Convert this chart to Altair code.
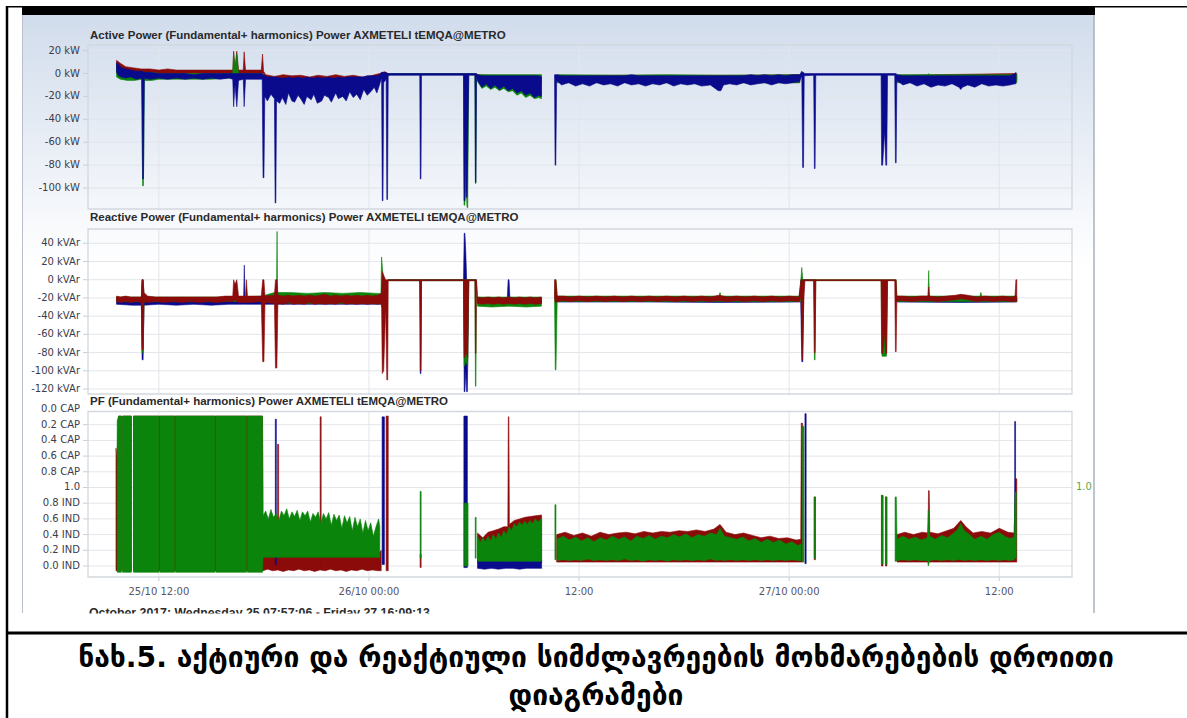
import altair as alt
import pandas as pd

W, H = 1187, 718

# ---------------- texts ----------------
TITLE_P = "Active Power  (Fundamental+ harmonics) Power AXMETELI tEMQA@METRO"
TITLE_Q = "Reactive Power (Fundamental+ harmonics) Power AXMETELI tEMQA@METRO"
TITLE_PF = "PF (Fundamental+ harmonics) Power AXMETELI tEMQA@METRO"
DATE_RANGE = "October 2017: Wednesday 25  07:57:06 - Friday 27  16:09:13"
CAPTION_1 = "ნახ.5. აქტიური და რეაქტიული სიმძლავრეების მოხმარებების დროითი"
CAPTION_2 = "დიაგრამები"
PF_UNITY = "1.0"

# ---------------- axes (hours since 25/10/2017 00:00) ----------------
X_START = 7.952    # 25/10 07:57:06
X_END = 64.154     # 27/10 16:09:13
X_TICKS = [12, 24, 36, 48, 60]
X_LABELS = ["25/10 12:00", "26/10 00:00", "12:00", "27/10 00:00", "12:00"]

P_TICKS = [20, 0, -20, -40, -60, -80, -100]
P_LABELS = ["20 kW", "0 kW", "-20 kW", "-40 kW", "-60 kW", "-80 kW", "-100 kW"]
P_DOMAIN = [-118.3, 24.9]
Q_TICKS = [40, 20, 0, -20, -40, -60, -80, -100, -120]
Q_LABELS = ["40 kVAr", "20 kVAr", "0 kVAr", "-20 kVAr", "-40 kVAr", "-60 kVAr", "-80 kVAr",
            "-100 kVAr", "-120 kVAr"]
Q_DOMAIN = [-125.5, 55.7]
# PF axis position: 0 = 0.0 CAP, 1 = unity, 2 = 0.0 IND
PF_TICKS = [0.0, 0.2, 0.4, 0.6, 0.8, 1.0, 1.2, 1.4, 1.6, 1.8, 2.0]
PF_LABELS = ["0.0 CAP", "0.2 CAP", "0.4 CAP", "0.6 CAP", "0.8 CAP", "1.0",
             "0.8 IND", "0.6 IND", "0.4 IND", "0.2 IND", "0.0 IND"]
PF_DOMAIN = [0.032, 2.14]

# ---------------- series: segments of (hour, value1, value2) ----------------
P_BLUE = [
    [(9.58, 1, 9.5), (9.70, -2, 8), (9.85, -3, 5), (10.1, -4, 4), (10.4, -3, 3), (10.7, -5, 2), (11.02, -4, 2),
     (11.07, -92, 2), (11.12, -92, 1), (11.17, -4, 1), (11.5, -5, 1), (12.0, -4, 0), (12.5, -5, 0), (13.0, -4, 0),
     (13.5, -5, 0), (14.0, -4, -1), (14.5, -5, 0), (15.0, -4, 0), (15.5, -5, 0), (16.0, -4, 0), (16.22, -5, 0),
     (16.27, -29, 0), (16.35, -10, 0), (16.45, -29, 0), (16.55, -6, 0), (16.82, -5, 0), (16.87, -29, 0),
     (16.95, -5, 0), (17.3, -5, 0), (17.7, -5, 0), (17.9, -5, 0), (17.95, -91, -1), (18.0, -91, -1),
     (18.05, -20, -2), (18.2, -24, -3), (18.4, -18, -3), (18.6, -22, -3), (18.64, -113, -3), (18.68, -113, -3),
     (18.72, -24, -3), (18.9, -26, -4), (19.05, -21, -4), (19.25, -27, -4), (19.4, -17, -3), (19.6, -24, -4),
     (19.75, -25, -4), (19.95, -19, -3), (20.1, -22, -4), (20.3, -27, -4), (20.45, -20, -3), (20.7, -23, -4),
     (20.85, -18, -4), (21.05, -26, -3), (21.3, -24, -4), (21.45, -19, -4), (21.7, -21, -3), (21.85, -25, -4),
     (22.1, -17, -4), (22.25, -22, -3), (22.5, -20, -4), (22.7, -24, -3), (22.9, -16, -3), (23.1, -21, -3),
     (23.3, -18, -3), (23.5, -23, -3), (23.7, -14, -3), (23.9, -19, -2), (24.1, -16, -2), (24.3, -12, -2),
     (24.45, -17, -2), (24.6, -10, -1), (24.72, -4, 1), (24.76, -111, 1), (24.8, -111, 1), (24.84, -8, 1),
     (24.98, -5, 1), (25.02, -110, 0), (25.06, -110, 0), (25.1, -2, 0), (25.2, -1.5, 0), (26.9, -1.5, 0),
     (26.93, -92, 0), (26.97, -92, 0), (27.0, -1.5, 0), (29.4, -1.5, 0), (29.43, -111, 0), (29.47, -111, 0),
     (29.52, -60, 0), (29.56, -108, 0), (29.6, -108, 0), (29.66, -40, 0), (29.7, -1.5, 0), (30.05, -1.5, 0),
     (30.08, -95, 0), (30.11, -95, 0), (30.14, -1.5, 0), (30.2, -6, -1), (30.45, -12, -2), (30.7, -9, -2),
     (30.95, -13, -2), (31.2, -10, -2), (31.45, -14, -2), (31.7, -11, -2), (31.95, -15, -2), (32.2, -13, -2),
     (32.45, -17, -2), (32.7, -15, -2), (32.95, -19, -2), (33.2, -17, -2), (33.45, -21, -2), (33.7, -19, -2),
     (33.85, -20, -3)],
    [(34.6, -3, -1), (34.63, -80, -1), (34.67, -80, -1), (34.72, -6, -1), (35.0, -10, -2), (35.4, -8, -2),
     (35.8, -11, -2), (36.2, -9, -2), (36.6, -11, -2), (37.0, -8, -2), (37.4, -10, -2), (37.8, -9, -2),
     (38.2, -11, -2), (38.6, -8, -2), (39.0, -10, -1), (39.4, -9, -2), (39.8, -11, -2), (40.2, -9, -2),
     (40.6, -10, -2), (41.0, -8, -2), (41.4, -11, -2), (41.8, -9, -2), (42.2, -10, -2), (42.6, -9, -2),
     (43.0, -11, -2), (43.5, -10, -2), (43.95, -15, -2), (44.1, -15, -2), (44.25, -10, -2), (44.6, -9, -2),
     (45.0, -10, -2), (45.4, -8, -2), (45.8, -10, -1), (46.2, -9, -2), (46.6, -8, -1), (47.0, -10, -2),
     (47.4, -8, -1), (47.8, -9, -2), (48.2, -8, -1), (48.6, -7, -1), (48.72, -2, 2), (48.77, -82, 1),
     (48.82, -82, 1), (48.86, -2, 0), (49.4, -1.5, 0), (49.44, -83, 0), (49.48, -83, 0), (49.52, -1.5, 0),
     (53.25, -1.5, 0), (53.28, -80, 0), (53.34, -80, 0), (53.45, -50, 0), (53.52, -80, 0), (53.57, -80, 0),
     (53.62, -1.5, 0), (54.03, -1.5, 0), (54.07, -78, 0), (54.11, -78, 0), (54.15, -6, -1), (54.5, -10, -2),
     (54.9, -8, -2), (55.3, -11, -2), (55.7, -9, -2), (56.1, -12, -2), (56.5, -10, -2), (56.9, -11, -2),
     (57.3, -9, -2), (57.7, -12, -2), (57.8, -14, -2), (57.9, -12, -2), (58.2, -10, -2), (58.6, -12, -2),
     (59.0, -9, -2), (59.4, -11, -2), (59.8, -10, -2), (60.2, -11, -2), (60.6, -10, -2), (60.9, -9, 0),
     (60.95, -9, 1)],
]
P_RED = [
    [(9.58, 2, 11.5), (9.8, 1, 9), (10.1, 0, 6), (10.5, 0, 5), (11.0, 0, 4), (11.5, 0, 4), (12.0, 0, 3),
     (12.5, 0, 4), (13.0, 0, 3), (13.5, 0, 3), (14.0, 0, 3), (14.5, 0, 3), (15.0, 0, 3), (15.5, 0, 3),
     (16.0, 0, 3), (16.22, 0, 3), (16.27, 0, 19.5), (16.35, 0, 5), (16.45, 0, 19.5), (16.55, 0, 3),
     (16.82, 0, 3), (16.87, 0, 19), (16.95, 0, 3), (17.3, 0, 3), (17.85, 0, 3), (17.92, 0, 17), (17.98, 0, 2),
     (18.1, -8, -1), (18.6, -8, -2.5), (19.1, -8, -1), (19.6, -8, -2), (20.1, -8, -1.5), (20.6, -8, -3),
     (21.1, -8, -1.5), (21.6, -8, -2.5), (22.1, -8, -1), (22.6, -8, -2.5), (23.1, -8, -1.5), (23.6, -8, -3),
     (24.1, -8, -2), (24.6, -5, 0), (24.9, -3, 1.5), (25.1, -1, 0)],
    [(30.2, -4, -1), (31, -5, -1.5), (32, -6, -1.5), (33, -7, -1.5), (33.85, -8, -1.5)],
    [(34.72, -6, -1.5), (40, -8, -1.5), (45, -8, -1.5), (48.6, -8, -1)],
    [(54.15, -6, -1.5), (61.0, -6, 0)],
]
P_GREEN = [
    [(9.58, -3, 8), (9.8, -5, 4), (10.2, -6, 2), (10.6, -6, 1), (11.02, -5, 1), (11.07, -98, 1), (11.12, -98, 1),
     (11.17, -6, 1), (11.6, -6, 1), (12.0, -5, 0), (13, -5, 0), (14, -5, 0), (15, -5, 0), (16.0, -4, 0),
     (16.22, -4, 0), (16.27, -4, 18), (16.35, -4, 3), (16.45, -4, 17), (16.55, -4, 0), (17.9, -4, 0)],
    [(25.1, -1, 0), (29.4, -1, 0), (29.43, -115, 0), (29.47, -115, 0), (29.55, -100, 0), (29.6, -117, 0),
     (29.64, -117, 0), (29.7, -1, 0), (30.05, -1, 0), (30.08, -96, 0), (30.11, -96, 0), (30.14, -1, 0),
     (30.2, -7, -1), (30.45, -13, -1), (30.7, -11, -1), (30.95, -14, -1), (31.2, -12, -1), (31.45, -15, -1),
     (31.7, -13, -1), (31.95, -16, -1), (32.2, -15, -1), (32.45, -19, -1), (32.7, -17, -1), (32.95, -21, -1),
     (33.2, -19, -1), (33.45, -22, -1), (33.7, -21, -1), (33.85, -22, -1)],
    [(34.72, -8, -1), (38, -8, -1.5), (41, -8, -1), (44, -8, -1.5), (48.6, -8, -1)],
    [(54.15, -8, -1), (55.93, -8, -1), (55.97, -8, 0), (56.01, -8, -1), (61, -8, -1)],
]

Q_RED = [
    [(9.58, -24, -18), (9.8, -25, -19), (10.1, -24, -18), (10.4, -25, -19), (10.7, -24, -19), (11.0, -25, -19),
     (11.04, -77, 0), (11.1, -77, 0), (11.15, -24, -14), (11.35, -25, -18), (11.8, -24, -19), (12.3, -25, -19),
     (12.8, -24, -19), (13.3, -25, -19), (13.8, -24, -19), (14.3, -25, -19), (14.8, -24, -19), (15.3, -25, -19),
     (15.8, -24, -18), (16.22, -24, -18), (16.27, -24, 0), (16.35, -22, -5), (16.45, -24, 0), (16.55, -25, -18),
     (16.95, -25, -18), (17.0, -25, 0), (17.06, -25, -18), (17.85, -24, -18), (17.93, -90, 0), (18.0, -90, 0),
     (18.06, -25, -18), (18.6, -26, -17), (18.66, -97, 0), (18.74, -97, 0), (18.8, -26, -17), (19.1, -27, -18),
     (19.4, -25, -17), (19.7, -27, -18), (20.0, -26, -17), (20.3, -27, -18), (20.6, -25, -17), (20.9, -27, -18),
     (21.2, -26, -17), (21.5, -27, -16), (21.8, -26, -18), (22.1, -27, -17), (22.4, -25, -18), (22.7, -27, -17),
     (23.0, -26, -18), (23.3, -27, -17), (23.6, -26, -18), (23.9, -27, -17), (24.2, -26, -18), (24.5, -27, -17),
     (24.72, -26, -15), (24.76, -103, 9), (24.84, -100, 5), (24.95, -30, 0), (25.02, -110, 0), (25.07, -110, 0),
     (25.1, -1, 0), (26.9, -1, 0), (26.93, -100, 0), (26.97, -100, 0), (27.0, -1, 0), (29.4, -1, 0),
     (29.44, -86, 0), (29.55, -80, 0), (29.64, -86, 0), (29.7, -1, 0), (30.05, -1, 0), (30.08, -81, 0),
     (30.11, -81, 0), (30.14, -1, 0), (30.2, -26, -19), (30.5, -27, -20), (30.8, -26, -19), (31.1, -27, -20),
     (31.4, -26, -19), (31.7, -27, -20), (32.0, -26, -19), (32.3, -27, -20), (32.6, -26, -19), (32.9, -27, -20),
     (33.2, -26, -19), (33.5, -27, -20), (33.85, -26, -19)],
    [(34.6, -20, 0), (34.64, -25, 0), (34.68, -25, 0), (34.75, -24, -18), (35.1, -23, -18), (35.5, -24, -19),
     (36, -23, -18), (36.5, -24, -19), (37, -23, -18), (37.5, -24, -19), (38, -23, -18), (38.5, -24, -19),
     (39, -23, -18), (39.5, -24, -19), (40, -23, -18), (40.5, -24, -19), (41, -23, -18), (41.5, -24, -19),
     (42, -23, -18), (42.5, -24, -19), (43, -23, -18), (43.5, -24, -19), (44, -23, -17), (44.5, -24, -19),
     (45, -23, -18), (45.5, -24, -19), (46, -23, -18), (46.5, -24, -19), (47, -23, -18), (47.5, -24, -19),
     (48, -23, -18), (48.55, -24, -19), (48.68, -20, 0), (48.76, -88, 0), (48.84, -20, 0), (48.9, -1, 0),
     (49.4, -1, 0), (49.44, -80, 0), (49.48, -80, 0), (49.52, -1, 0), (53.25, -1, 0), (53.28, -81, 0),
     (53.34, -81, 0), (53.45, -60, 0), (53.52, -81, 0), (53.57, -81, 0), (53.62, -1, 0), (54.03, -1, 0),
     (54.07, -79, 0), (54.11, -79, 0), (54.15, -23, -18), (54.5, -23, -18), (55, -24, -19), (55.5, -23, -18),
     (55.93, -23, -18), (55.97, -23, -8), (56.01, -23, -18), (56.5, -24, -19), (57, -23, -18), (57.5, -22, -17),
     (57.8, -21, -16), (58.2, -22, -17), (58.7, -24, -19), (59.2, -23, -18), (59.7, -24, -19), (60.2, -23, -18),
     (60.7, -24, -19), (60.9, -24, -18), (60.95, -24, 0), (61.0, -24, 0)],
]
Q_BLUE = [
    [(9.58, -27, -20), (10.5, -28, -20), (11.0, -28, -20), (11.04, -88, 0), (11.1, -88, 0), (11.15, -28, -20),
     (12, -27, -20), (13, -28, -20), (14, -27, -20), (15, -28, -20), (16, -27, -20), (16.84, -27, -20),
     (16.88, -27, 16), (16.92, -27, -20), (17.9, -27, -20), (18.6, -27, -20), (19.5, -27, -20), (24.7, -27, -20)],
    [(25.1, -1, 0), (26.9, -1, 0), (26.93, -103, 0), (26.97, -103, 0), (27.0, -1, 0), (29.4, -1, 0),
     (29.44, -123, 51), (29.48, -123, 51), (29.53, -100, 30), (29.58, -123, 0), (29.62, -123, 0), (29.7, -1, 0),
     (30.1, -1, 0)],
    [(30.2, -26, -20), (31.9, -26, -20), (31.95, -26, 0), (32.0, -26, 0), (32.05, -26, -20), (33.85, -26, -20)],
    [(34.72, -24.5, -20), (40, -24.5, -20), (44, -25, -20), (48.6, -24.5, -20), (48.66, -24.5, 0),
     (48.72, -90, 0), (48.78, -90, 0), (48.84, -1, 0), (49.5, -1, 0)],
    [(54.15, -24.5, -20), (57.8, -25, -20), (61, -24.5, -20)],
]
Q_GREEN = [
    [(9.58, -24, -19), (11.0, -24, -19), (11.04, -80, 0), (11.1, -80, 0), (11.15, -24, -19), (16.0, -24, -19),
     (16.6, -24, -19), (17.9, -24, -18), (18.6, -24, -14), (18.72, -24, -14), (18.75, -24, 53), (18.78, -24, -14),
     (19.5, -26, -14), (20.5, -26, -15), (21.5, -26, -14), (22.5, -26, -15), (23.5, -26, -14), (24.5, -26, -15),
     (24.68, -26, -15), (24.72, -30, 25), (24.78, -30, 10), (24.86, -30, -10), (24.9, -26, -15)],
    [(25.1, -1, 0), (29.4, -1, 0), (29.44, -95, 0), (29.55, -90, 0), (29.64, -95, 0), (29.7, -1, 0),
     (30.05, -1, 0), (30.08, -117, 0), (30.11, -117, 0), (30.14, -1, 0)],
    [(30.2, -29, -19), (31, -30, -19), (32, -29, -19), (33, -30, -19), (33.85, -29, -19)],
    [(34.6, -24, -18), (34.64, -99, 0), (34.68, -99, 0), (34.75, -24, -18), (44.0, -24, -18), (44.05, -24, -14),
     (44.1, -24, -18), (48.6, -24, -18), (48.72, -24, 13.5), (48.78, -24, 0), (48.84, -1, 0), (49.4, -1, 0),
     (49.44, -88, 0), (49.48, -88, 0), (49.52, -1, 0), (53.25, -1, 0), (53.3, -84, 0), (53.36, -84, 0),
     (53.5, -84, 0), (53.56, -84, 0), (53.62, -1, 0), (54.1, -1, 0), (54.15, -24, -18), (55.93, -24, -18),
     (55.97, -24, 10), (56.01, -24, -18), (58.9, -24, -18), (58.95, -24, -14), (59.0, -24, -18), (61, -24, -18)],
]

PF_GREEN = [
    [(9.62, 2.08, 0.15), (9.7, 2.08, 0.09), (9.86, 2.08, 0.09)],
    [(9.92, 2.08, 0.09), (10.43, 2.08, 0.09)],
    [(10.55, 2.08, 0.09), (12.0, 2.08, 0.09)],
    [(12.05, 2.08, 0.09), (12.9, 2.08, 0.09)],
    [(12.95, 2.08, 0.09), (15.2, 2.08, 0.09)],
    [(15.25, 2.08, 0.09), (17.0, 2.08, 0.09)],
    [(17.05, 2.08, 0.09), (17.92, 2.08, 0.09), (17.95, 1.89, 1.36), (18.1, 1.89, 1.30), (18.25, 1.89, 1.40),
     (18.4, 1.89, 1.28), (18.55, 1.89, 1.38), (18.7, 1.89, 1.33), (18.85, 1.89, 1.42), (19.0, 1.89, 1.30),
     (19.15, 1.89, 1.36), (19.3, 1.89, 1.27), (19.45, 1.89, 1.40), (19.6, 1.89, 1.31), (19.75, 1.89, 1.37),
     (19.9, 1.89, 1.29), (20.05, 1.89, 1.42), (20.2, 1.89, 1.31), (20.35, 1.89, 1.36), (20.5, 1.89, 1.30),
     (20.65, 1.89, 1.44), (20.8, 1.89, 1.33), (20.95, 1.89, 1.38), (21.1, 1.89, 1.31), (21.25, 1.89, 1.46),
     (21.4, 1.89, 1.33), (21.55, 1.89, 1.40), (21.7, 1.89, 1.32), (21.85, 1.89, 1.48), (22.0, 1.89, 1.34),
     (22.15, 1.89, 1.42), (22.3, 1.89, 1.35), (22.45, 1.89, 1.52), (22.6, 1.89, 1.36), (22.75, 1.89, 1.45),
     (22.9, 1.89, 1.37), (23.05, 1.89, 1.55), (23.2, 1.89, 1.38), (23.35, 1.89, 1.50), (23.5, 1.89, 1.40),
     (23.65, 1.89, 1.58), (23.8, 1.89, 1.42), (23.95, 1.89, 1.55), (24.1, 1.89, 1.45), (24.25, 1.89, 1.62),
     (24.4, 1.89, 1.50), (24.55, 1.89, 1.40), (24.62, 1.9, 1.5)],
    [(26.92, 1.9, 1.05), (26.98, 1.9, 1.05)],
    [(29.44, 2.0, 1.2), (29.66, 2.0, 1.2)],
    [(30.07, 1.9, 1.38), (30.12, 1.9, 1.38)],
    [(30.2, 1.94, 1.62), (30.35, 1.94, 1.70), (30.5, 1.94, 1.64), (30.65, 1.94, 1.69), (30.8, 1.94, 1.62),
     (30.95, 1.94, 1.68), (31.1, 1.94, 1.60), (31.25, 1.94, 1.66), (31.4, 1.94, 1.58), (31.55, 1.94, 1.64),
     (31.7, 1.94, 1.55), (31.85, 1.94, 1.60), (32.0, 1.94, 1.50), (32.15, 1.94, 1.55), (32.3, 1.94, 1.46),
     (32.45, 1.94, 1.50), (32.6, 1.94, 1.44), (32.75, 1.94, 1.48), (32.9, 1.94, 1.43), (33.05, 1.94, 1.47),
     (33.2, 1.94, 1.42), (33.35, 1.94, 1.46), (33.5, 1.94, 1.40), (33.65, 1.94, 1.44), (33.86, 1.94, 1.39)],
    [(34.62, 1.92, 1.22), (34.68, 1.92, 1.22)],
    [(34.75, 1.93, 1.66), (35.1, 1.92, 1.62), (35.45, 1.93, 1.67), (35.8, 1.92, 1.63), (36.15, 1.93, 1.68),
     (36.5, 1.91, 1.64), (36.85, 1.93, 1.69), (37.2, 1.92, 1.64), (37.55, 1.93, 1.67), (37.9, 1.92, 1.62),
     (38.25, 1.93, 1.66), (38.6, 1.91, 1.63), (38.95, 1.93, 1.68), (39.3, 1.92, 1.62), (39.65, 1.94, 1.65),
     (40.0, 1.92, 1.61), (40.35, 1.93, 1.66), (40.7, 1.92, 1.62), (41.05, 1.94, 1.64), (41.4, 1.92, 1.60),
     (41.75, 1.93, 1.63), (42.1, 1.92, 1.59), (42.45, 1.93, 1.64), (42.8, 1.92, 1.60), (43.15, 1.93, 1.62),
     (43.5, 1.91, 1.58), (43.85, 1.93, 1.60), (44.05, 1.92, 1.52), (44.3, 1.93, 1.62), (44.65, 1.92, 1.64),
     (45.0, 1.93, 1.66), (45.35, 1.92, 1.63), (45.7, 1.93, 1.68), (46.05, 1.92, 1.65), (46.4, 1.93, 1.70),
     (46.75, 1.92, 1.66), (47.1, 1.93, 1.70), (47.45, 1.92, 1.67), (47.8, 1.93, 1.72), (48.15, 1.92, 1.69),
     (48.5, 1.93, 1.74), (48.68, 1.93, 1.72)],
    [(48.76, 1.95, 0.22), (48.84, 1.95, 0.22)],
    [(49.43, 1.9, 1.12), (49.5, 1.9, 1.12)],
    [(53.27, 1.97, 1.1), (53.36, 1.97, 1.1)],
    [(53.5, 1.98, 1.12), (53.58, 1.98, 1.12)],
    [(54.05, 1.94, 1.12), (54.12, 1.94, 1.12), (54.16, 1.93, 1.66), (54.5, 1.92, 1.62), (54.85, 1.93, 1.66),
     (55.2, 1.92, 1.63), (55.55, 1.93, 1.67), (55.9, 1.93, 1.64), (55.95, 2.0, 1.29), (56.02, 1.93, 1.62),
     (56.35, 1.92, 1.66), (56.7, 1.93, 1.61), (57.05, 1.92, 1.64), (57.4, 1.93, 1.58), (57.6, 1.92, 1.54),
     (57.8, 1.92, 1.46), (58.0, 1.93, 1.55), (58.3, 1.92, 1.60), (58.6, 1.93, 1.66), (58.95, 1.92, 1.62),
     (59.3, 1.93, 1.66), (59.65, 1.92, 1.60), (60.0, 1.93, 1.57), (60.3, 1.92, 1.62), (60.6, 1.93, 1.65),
     (60.85, 1.92, 1.63), (60.9, 1.9, 1.06), (60.97, 1.9, 1.06)],
]
PF_RED = [
    [(9.55, 2.06, 0.50), (9.6, 2.06, 0.62), (9.7, 2.06, 0.09), (9.86, 2.06, 0.09)],
    [(9.92, 2.06, 0.09), (10.43, 2.06, 0.09)],
    [(10.55, 2.06, 0.09), (17.92, 2.06, 0.09), (17.95, 2.06, 1.86), (18.2, 2.04, 1.84), (18.5, 2.06, 1.87),
     (18.8, 2.05, 1.85), (19.1, 2.07, 1.86), (19.4, 2.05, 1.84), (19.7, 2.06, 1.87), (20.0, 2.04, 1.85),
     (20.3, 2.06, 1.86), (20.6, 2.05, 1.84), (20.9, 2.07, 1.87), (21.2, 2.05, 1.85), (21.5, 2.06, 1.86),
     (21.8, 2.04, 1.84), (22.1, 2.06, 1.87), (22.4, 2.05, 1.85), (22.7, 2.07, 1.86), (23.0, 2.05, 1.84),
     (23.3, 2.06, 1.87), (23.6, 2.04, 1.85), (23.9, 2.06, 1.86), (24.2, 2.05, 1.84), (24.5, 2.06, 1.86),
     (24.7, 2.06, 1.8)],
    [(18.78, 2.0, 0.45), (18.84, 2.0, 0.45)],
    [(21.21, 2.0, 0.1), (21.27, 2.0, 0.1)],
    [(24.98, 2.06, 0.09), (25.1, 2.06, 0.09)],
    [(26.92, 2.02, 1.85), (26.98, 2.02, 1.85)],
    [(30.2, 1.96, 1.58), (30.5, 1.96, 1.64), (30.8, 1.96, 1.57), (31.1, 1.96, 1.55), (31.4, 1.96, 1.53),
     (31.7, 1.96, 1.50), (31.93, 1.96, 1.5), (31.96, 1.96, 0.1), (31.99, 1.96, 0.1), (32.02, 1.96, 1.47),
     (32.3, 1.96, 1.42), (32.6, 1.96, 1.40), (32.9, 1.96, 1.38), (33.2, 1.96, 1.37), (33.5, 1.96, 1.36),
     (33.86, 1.96, 1.35)],
    [(34.72, 1.95, 1.60), (35.2, 1.95, 1.57), (35.7, 1.95, 1.61), (36.2, 1.95, 1.58), (36.7, 1.95, 1.62),
     (37.2, 1.95, 1.57), (37.7, 1.95, 1.60), (38.2, 1.95, 1.58), (38.7, 1.95, 1.57), (39.2, 1.95, 1.59),
     (39.7, 1.95, 1.56), (40.2, 1.95, 1.58), (40.7, 1.95, 1.56), (41.2, 1.95, 1.57), (41.7, 1.95, 1.55),
     (42.2, 1.95, 1.56), (42.7, 1.95, 1.54), (43.2, 1.95, 1.56), (43.7, 1.95, 1.53), (44.05, 1.95, 1.47),
     (44.4, 1.95, 1.57), (44.9, 1.95, 1.60), (45.4, 1.95, 1.58), (45.9, 1.95, 1.61), (46.4, 1.95, 1.64),
     (46.9, 1.95, 1.62), (47.4, 1.95, 1.65), (47.9, 1.95, 1.64), (48.4, 1.95, 1.67), (48.66, 1.95, 1.66),
     (48.69, 1.95, 0.18), (48.76, 1.95, 0.18)],
    [(49.43, 1.92, 1.12), (49.5, 1.92, 1.12)],
    [(53.27, 2.0, 1.1), (53.36, 2.0, 1.1)],
    [(53.5, 2.0, 1.12), (53.58, 2.0, 1.12)],
    [(54.16, 1.95, 1.60), (54.6, 1.95, 1.57), (55.1, 1.95, 1.60), (55.6, 1.95, 1.57), (55.93, 1.95, 1.58),
     (55.96, 1.95, 1.04), (56.0, 1.95, 1.04), (56.03, 1.95, 1.57), (56.5, 1.95, 1.59), (57.0, 1.95, 1.55),
     (57.4, 1.95, 1.52), (57.8, 1.95, 1.42), (58.1, 1.95, 1.50), (58.5, 1.95, 1.58), (59.0, 1.95, 1.56),
     (59.5, 1.95, 1.58), (60.0, 1.95, 1.52), (60.5, 1.95, 1.57), (60.85, 1.95, 1.58), (60.93, 1.95, 0.89),
     (61.0, 1.95, 0.89)],
]
PF_BLUE = [
    [(18.65, 1.98, 0.13), (18.71, 1.98, 0.13)],
    [(24.75, 1.98, 0.1), (24.88, 1.98, 0.1)],
    [(29.42, 2.02, 0.09), (29.62, 2.02, 0.09)],
    [(30.2, 2.03, 1.93), (30.6, 2.04, 1.94), (31.0, 2.03, 1.93), (31.4, 2.04, 1.94), (31.8, 2.03, 1.93),
     (32.2, 2.03, 1.92), (32.6, 2.04, 1.93), (33.0, 2.03, 1.92), (33.4, 2.03, 1.92), (33.86, 2.03, 1.92)],
    [(48.9, 1.97, 0.06), (48.97, 1.97, 0.06)],
    [(60.88, 1.9, 0.16), (60.93, 1.9, 0.16)],
]

# ---------------- style ----------------
RED = "#8b0a0a"
GREEN = "#0a840a"
BLUE = "#0a0a8c"
GRID = "#e2e5ea"
TICKC = "#c9ced6"
LABEL = "#3c3c4a"
FONT = "DejaVu Sans"
TFONT = "Liberation Sans"
PLOT_L, PLOT_R = 88, 1072
GEOM = {"P": (45, 209), "Q": (229, 394), "PF": (411.5, 577)}

rows = []
for panel, series, segs in [("P", "red", P_RED), ("P", "green", P_GREEN), ("P", "blue", P_BLUE),
                            ("Q", "blue", Q_BLUE), ("Q", "green", Q_GREEN), ("Q", "red", Q_RED),
                            ("PF", "red", PF_RED), ("PF", "blue", PF_BLUE), ("PF", "green", PF_GREEN)]:
    for i, seg in enumerate(segs):
        for t, a, b in seg:
            rows.append({"panel": panel, "series": series, "seg": f"{series}{i}", "t": t, "a": a, "b": b})
df = pd.DataFrame(rows)
ONE = pd.DataFrame({"k": [0]})

XSCALE = alt.Scale(domain=[X_START, X_END], range=[PLOT_L, PLOT_R], nice=False, zero=False)
SCALES = {
    "P": alt.Scale(domain=P_DOMAIN, range=[GEOM["P"][1], GEOM["P"][0]], nice=False, zero=False),
    "Q": alt.Scale(domain=Q_DOMAIN, range=[GEOM["Q"][1], GEOM["Q"][0]], nice=False, zero=False),
    "PF": alt.Scale(domain=PF_DOMAIN, range=[GEOM["PF"][0], GEOM["PF"][1]], nice=False, zero=False),
}
COLORS = {"red": RED, "green": GREEN, "blue": BLUE}
TICKS = {"P": (P_TICKS, P_LABELS, P_DOMAIN), "Q": (Q_TICKS, Q_LABELS, Q_DOMAIN),
         "PF": (PF_TICKS, PF_LABELS, PF_DOMAIN)}


def panel(key, order, with_x_labels=False):
    top, bottom = GEOM[key]
    ys = SCALES[key]
    tvals, tlabels, dom = TICKS[key]
    grid_vals = [v for v in tvals if min(dom) <= v <= max(dom)]
    ydf = pd.DataFrame({"v": tvals, "label": tlabels})
    gdf = pd.DataFrame({"v": grid_vals})
    xdf = pd.DataFrame({"t": X_TICKS, "label": X_LABELS})

    vgrid = alt.Chart(xdf).mark_rule(color=GRID, strokeWidth=1).encode(
        x=alt.X("t:Q", scale=XSCALE, axis=None), y=alt.value(top), y2=alt.value(bottom))
    hgrid = alt.Chart(gdf).mark_rule(color=GRID, strokeWidth=1).encode(
        x=alt.value(PLOT_L), x2=alt.value(PLOT_R), y=alt.Y("v:Q", scale=ys, axis=None))
    yticks = alt.Chart(gdf).mark_rule(color=TICKC, strokeWidth=1).encode(
        x=alt.value(PLOT_L - 5), x2=alt.value(PLOT_L), y=alt.Y("v:Q", scale=ys, axis=None))
    ylabels = alt.Chart(ydf).mark_text(align="right", baseline="middle", font=FONT, fontSize=10,
                                       color=LABEL).encode(
        x=alt.value(PLOT_L - 8), y=alt.Y("v:Q", scale=ys, axis=None), text="label:N")
    layers = [vgrid, hgrid, yticks, ylabels]
    for s in order:
        d = df[(df.panel == key) & (df.series == s)].sort_values(["seg", "t"])
        layers.append(alt.Chart(d).mark_area(color=COLORS[s], stroke=COLORS[s], strokeWidth=0.6,
                                             interpolate="linear").encode(
            x=alt.X("t:Q", scale=XSCALE, axis=None),
            y=alt.Y("a:Q", scale=ys, axis=None),
            y2="b:Q",
            detail="seg:N"))
    box = alt.Chart(ONE).mark_rect(fillOpacity=0, stroke="#d3d7de", strokeWidth=1.3).encode(
        x=alt.value(PLOT_L), x2=alt.value(PLOT_R), y=alt.value(top), y2=alt.value(bottom))
    layers.append(box)
    if with_x_labels:
        layers.append(alt.Chart(xdf).mark_rule(color=TICKC, strokeWidth=1).encode(
            x=alt.X("t:Q", scale=XSCALE, axis=None), y=alt.value(bottom), y2=alt.value(bottom + 4)))
        layers.append(alt.Chart(xdf).mark_text(align="center", baseline="middle", font=FONT, fontSize=10,
                                               color="#55556a").encode(
            x=alt.X("t:Q", scale=XSCALE, axis=None), y=alt.value(592), text="label:N"))
    if key == "PF":
        layers.append(alt.Chart(pd.DataFrame({"v": [1.0], "label": [PF_UNITY]})).mark_text(
            align="left", baseline="middle", font=FONT, fontSize=10, color="#5fa64a").encode(
            x=alt.value(1076), y=alt.Y("v:Q", scale=ys, axis=None), text="label:N"))
    return alt.layer(*layers)


pP = panel("P", ["red", "green", "blue"])
pQ = panel("Q", ["blue", "green", "red"])
pPF = panel("PF", ["red", "blue", "green"], with_x_labels=True)

bg = alt.Chart(ONE).mark_rect(fill={
    "gradient": "linear", "x1": 0, "y1": 0, "x2": 0, "y2": 1,
    "stops": [{"offset": 0, "color": "#d1dcec"}, {"offset": 0.42, "color": "#ffffff"},
              {"offset": 1, "color": "#ffffff"}]}).encode(
    x=alt.value(22), x2=alt.value(1094), y=alt.value(15), y2=alt.value(613))


def text(s, x, y, size, weight="normal", font=TFONT, align="left", color="#2a2a2a"):
    return alt.Chart(ONE).mark_text(align=align, baseline="middle", font=font, fontSize=size,
                                    fontWeight=weight, color=color).encode(
        x=alt.value(x), y=alt.value(y), text=alt.value(s))


def hline(x1, x2, y, w, color="black"):
    return alt.Chart(ONE).mark_rule(color=color, strokeWidth=w).encode(
        x=alt.value(x1), x2=alt.value(x2), y=alt.value(y))


def vline(x, y1, y2, w, color="black"):
    return alt.Chart(ONE).mark_rule(color=color, strokeWidth=w).encode(
        x=alt.value(x), y=alt.value(y1), y2=alt.value(y2))


top_bar = alt.Chart(ONE).mark_rect(color="black").encode(
    x=alt.value(22), x2=alt.value(1095), y=alt.value(6), y2=alt.value(15))
cover = alt.Chart(ONE).mark_rect(color="white").encode(
    x=alt.value(9), x2=alt.value(W), y=alt.value(613.5), y2=alt.value(631.5))

chart = alt.layer(
    bg, pP, pQ, pPF,
    text(TITLE_P, 90, 36, 11.5, "bold"),
    text(TITLE_Q, 90, 218, 11.5, "bold"),
    text(TITLE_PF, 90, 402, 11.5, "bold"),
    text(DATE_RANGE, 89, 612.5, 12.3, "bold"),
    cover,
    vline(22.5, 15, 613, 1, "#b9bfca"),
    vline(1094, 15, 613, 1.5, "#a9b1bd"),
    top_bar,
    hline(7, W, 6.8, 1.6),
    vline(7, 6, H, 2.5),
    hline(7, W, 633, 3),
    text(CAPTION_1, 596, 659, 28.2, "bold", font="DejaVu Sans", align="center", color="black"),
    text(CAPTION_2, 596, 697, 28.2, "bold", font="DejaVu Sans", align="center", color="black"),
).resolve_scale(y="independent").properties(
    width=W, height=H, autosize=alt.AutoSizeParams(type="none"), padding=0, background="white"
).configure_view(strokeWidth=0)

chart.save("out.html", embed_options={"renderer": "svg", "actions": False})
